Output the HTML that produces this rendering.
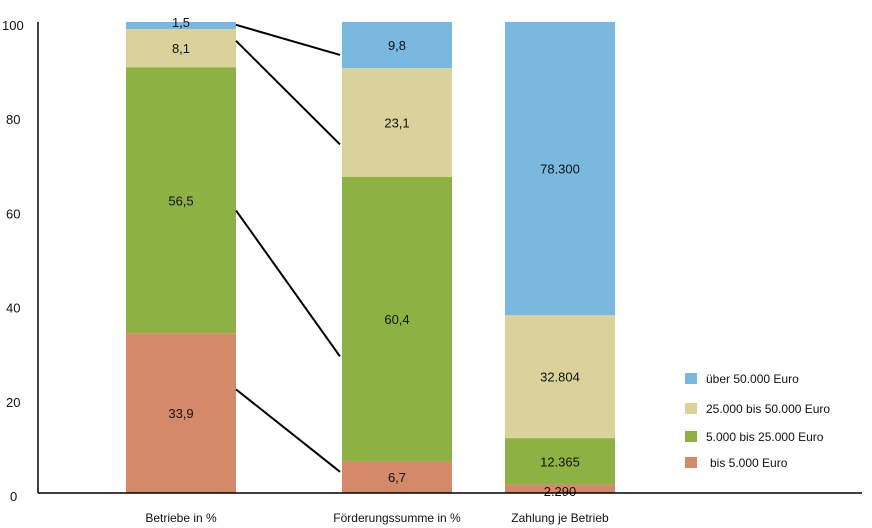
<!DOCTYPE html>
<html><head><meta charset="utf-8"><style>
body{margin:0;background:#fff;}
svg{display:block;font-family:"Liberation Sans",sans-serif;}
</style></head><body>
<svg id="chart" width="872" height="528"></svg>
<script>
const categories=["Betriebe in %","Förderungssumme in %","Zahlung je Betrieb"];
const seriesNames=["bis 5.000 Euro","5.000 bis 25.000 Euro","25.000 bis 50.000 Euro","über 50.000 Euro"];
const betriebe=[33.9,56.5,8.1,1.5];
const foerderung=[6.7,60.4,23.1,9.8];
const zahlung=[2290,12365,32804,78300];
const valueLabels=[["33,9","56,5","8,1","1,5"],["6,7","60,4","23,1","9,8"],["2.290","12.365","32.804","78.300"]];
const yTicks=[0,20,40,60,80,100];
const connFrom=[99.4,96,60,22];
const connTo=[93,74,29,4.5];
const colors=["#d4896a","#8db243","#d9d39b","#79b9e0"];
const NS="http://www.w3.org/2000/svg";
const svg=document.getElementById('chart');
const y0=493,y100=22;
function y(v){return y0-(v/100)*(y0-y100);}
const barX=[126,342,505],barW=110;
function mk(t,a,p){const e=document.createElementNS(NS,t);for(const k in a)e.setAttribute(k,a[k]);(p||svg).appendChild(e);return e;}
[betriebe,foerderung,zahlung].forEach((vals,bi)=>{
  const tot=vals.reduce((a,b)=>a+b,0);let acc=0;
  vals.forEach((v,si)=>{
    const p=v/tot*100;const top=y(acc+p),bot=y(acc);
    const r=mk('rect',{x:barX[bi],y:top,width:barW,height:bot-top,fill:colors[si]});
    
    
    let ly=(top+bot)/2+5;
    if(bi===2&&si===0)ly=bot+3;
    if(bi===0&&si===3)ly=top+5;
    const t=mk('text',{x:barX[bi]+barW/2,y:ly,'text-anchor':'middle','font-size':13,fill:'#111'});
    t.textContent=valueLabels[bi][si];
    
    
    acc+=p;
  });
  const c=mk('text',{x:barX[bi]+barW/2-(bi===1?0:0),y:522,'text-anchor':'middle','font-size':12,fill:'#111'});
  c.textContent=categories[bi];
  
  
});
connFrom.forEach((f,i)=>{
  const l=mk('line',{x1:barX[0]+barW,y1:y(f),x2:barX[1]-2,y2:y(connTo[i]),stroke:'#000','stroke-width':2});
  
  
});
const ax=mk('line',{x1:38,y1:y100,x2:38,y2:y0,stroke:'#000','stroke-width':1.5});


const bx=mk('line',{x1:38,y1:y0,x2:862,y2:y0,stroke:'#000','stroke-width':1.5});


yTicks.forEach(v=>{
  const t=mk('text',{x:v===0?10:(v===100?2:6),y:y(v)+8,'font-size':13,fill:'#111'});
  t.textContent=v;
  
  
});
const legY=[463,437,409,379];
seriesNames.forEach((n,i)=>{
  const r=mk('rect',{x:685,y:legY[i]-6,width:12,height:11,fill:colors[i]});
  
  
  const t=mk('text',{x:i===0?710:706,y:legY[i]+4,'font-size':12,fill:'#111'});
  t.textContent=n;
  
  
});
</script>
</body></html>
